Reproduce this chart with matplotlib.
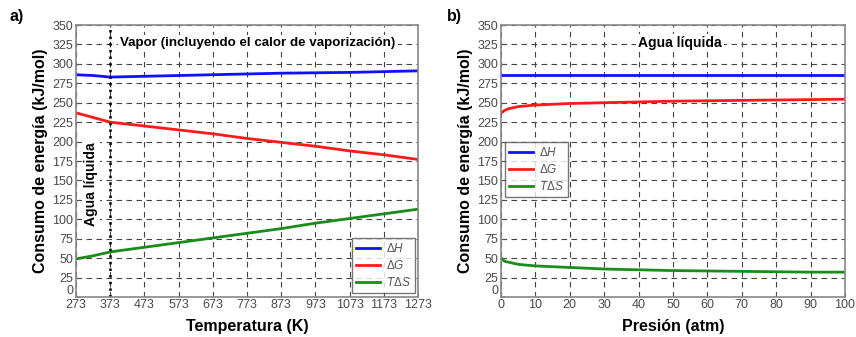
import matplotlib
matplotlib.use("Agg")
import matplotlib.pyplot as plt
import numpy as np

plt.rcParams['font.family'] = ['Liberation Sans', 'DejaVu Sans']
plt.rcParams['mathtext.fontset'] = 'custom'
plt.rcParams['mathtext.it'] = 'Liberation Sans:italic'
plt.rcParams['mathtext.rm'] = 'Liberation Sans'

# Panel a data (temperature)
temp_K = [273, 323, 373, 473, 573, 673, 773, 873, 973, 1073, 1173, 1273]
dH_T = [286, 285, 283, 284, 285, 286, 287, 288, 288.5, 289, 290, 291]
dG_T = [237, 231, 225, 220, 215, 210, 204, 199, 194, 188, 183, 177]
TdS_T = [49, 53, 58, 64, 70, 76, 82, 88, 95, 101, 107, 113]

# Panel b data (pressure)
pres_atm = [0.1, 1, 2, 5, 10, 15, 20, 30, 40, 50, 60, 70, 80, 90, 100]
dH_P = [286] * len(pres_atm)
dG_P = [237, 240, 242, 245, 247, 248, 249, 250, 251, 252, 252.5, 253, 253.5, 254, 254.5]
TdS_P = [50, 46, 45, 42, 40, 39, 38, 36, 35, 34, 33.5, 33, 32.5, 32, 32]

xticks_a = [273, 373, 473, 573, 673, 773, 873, 973, 1073, 1173, 1273]
xticks_b = [0, 10, 20, 30, 40, 50, 60, 70, 80, 90, 100]
yticks = list(range(0, 351, 25))

labels = [r"$\Delta H$", r"$\Delta G$", r"$T\Delta S$"]
colors = ["#1010ff", "#ff1a1a", "#1a8c1a"]

fig = plt.figure(figsize=(8.56, 3.37), dpi=100)
W, H = 856, 337
axA = fig.add_axes([76 / W, 1 - 297 / H, (418 - 76) / W, 272 / H])
axB = fig.add_axes([501 / W, 1 - 297 / H, (845 - 501) / W, 272 / H])

def style(ax, xticks, xlim, xlabel):
    ax.set_xlim(*xlim)
    ax.set_ylim(0, 350)
    ax.set_xticks(xticks)
    ax.set_yticks(yticks)
    ax.grid(True, linestyle=(0, (5, 4)), color="#444444", linewidth=0.8)
    ax.tick_params(axis="both", labelsize=9, labelcolor="#4a4a4a", length=3,
                   direction="in", color="#555555", pad=2)
    ax.tick_params(axis="x", pad=1.5)
    for s in ax.spines.values():
        s.set_color("#888888")
        s.set_linewidth(1.2)
    ax.set_xlabel(xlabel, fontsize=11.5, fontweight="bold", labelpad=6)
    ax.set_ylabel("Consumo de energía (kJ/mol)", fontsize=11.5, fontweight="bold", labelpad=3)
    fig.canvas.draw()
    ylabs = ax.get_yticklabels()
    ylabs[0].set_va("bottom")

def legend(ax, **kw):
    leg = ax.legend(fontsize=8.5, frameon=True, fancybox=False,
                    handlelength=2.0, handletextpad=0.5, borderpad=0.35,
                    labelspacing=0.35, borderaxespad=0.2, **kw)
    leg.get_frame().set_edgecolor("#555555")
    leg.get_frame().set_linewidth(1.0)
    for t in leg.get_texts():
        t.set_color("#555555")
    return leg

for y, c, l in zip([dH_T, dG_T, TdS_T], colors, labels):
    axA.plot(temp_K, y, color=c, lw=2, label=l)
axA.axvline(373, color="black", linestyle=":", lw=1.8)
style(axA, xticks_a, (273, 1273), "Temperatura (K)")
axA.text(805, 327, "Vapor (incluyendo el calor de vaporización)", ha="center", va="center",
         fontsize=9.6, fontweight="bold",
         bbox=dict(facecolor="white", edgecolor="none", pad=1.5))
axA.text(316, 145, "Agua líquida", rotation=90, ha="center", va="center",
         fontsize=10, fontweight="bold",
         bbox=dict(facecolor="white", edgecolor="none", pad=1.5))
legend(axA, loc="lower right", bbox_to_anchor=(0.997, 0.005))

for y, c, l in zip([dH_P, dG_P, TdS_P], colors, labels):
    axB.plot(pres_atm, y, color=c, lw=2, label=l)
style(axB, xticks_b, (0, 100), "Presión (atm)")
axB.text(52, 327, "Agua líquida", ha="center", va="center", fontsize=10, fontweight="bold",
         bbox=dict(facecolor="white", edgecolor="none", pad=1.5))
legend(axB, loc="upper left", bbox_to_anchor=(0.005, 0.58))

fig.text(10 / W, 1 - 17 / H, "a)", fontsize=11.5, fontweight="bold", va="center")
fig.text(447 / W, 1 - 17 / H, "b)", fontsize=11.5, fontweight="bold", va="center")

fig.savefig("out.png", dpi=100)
